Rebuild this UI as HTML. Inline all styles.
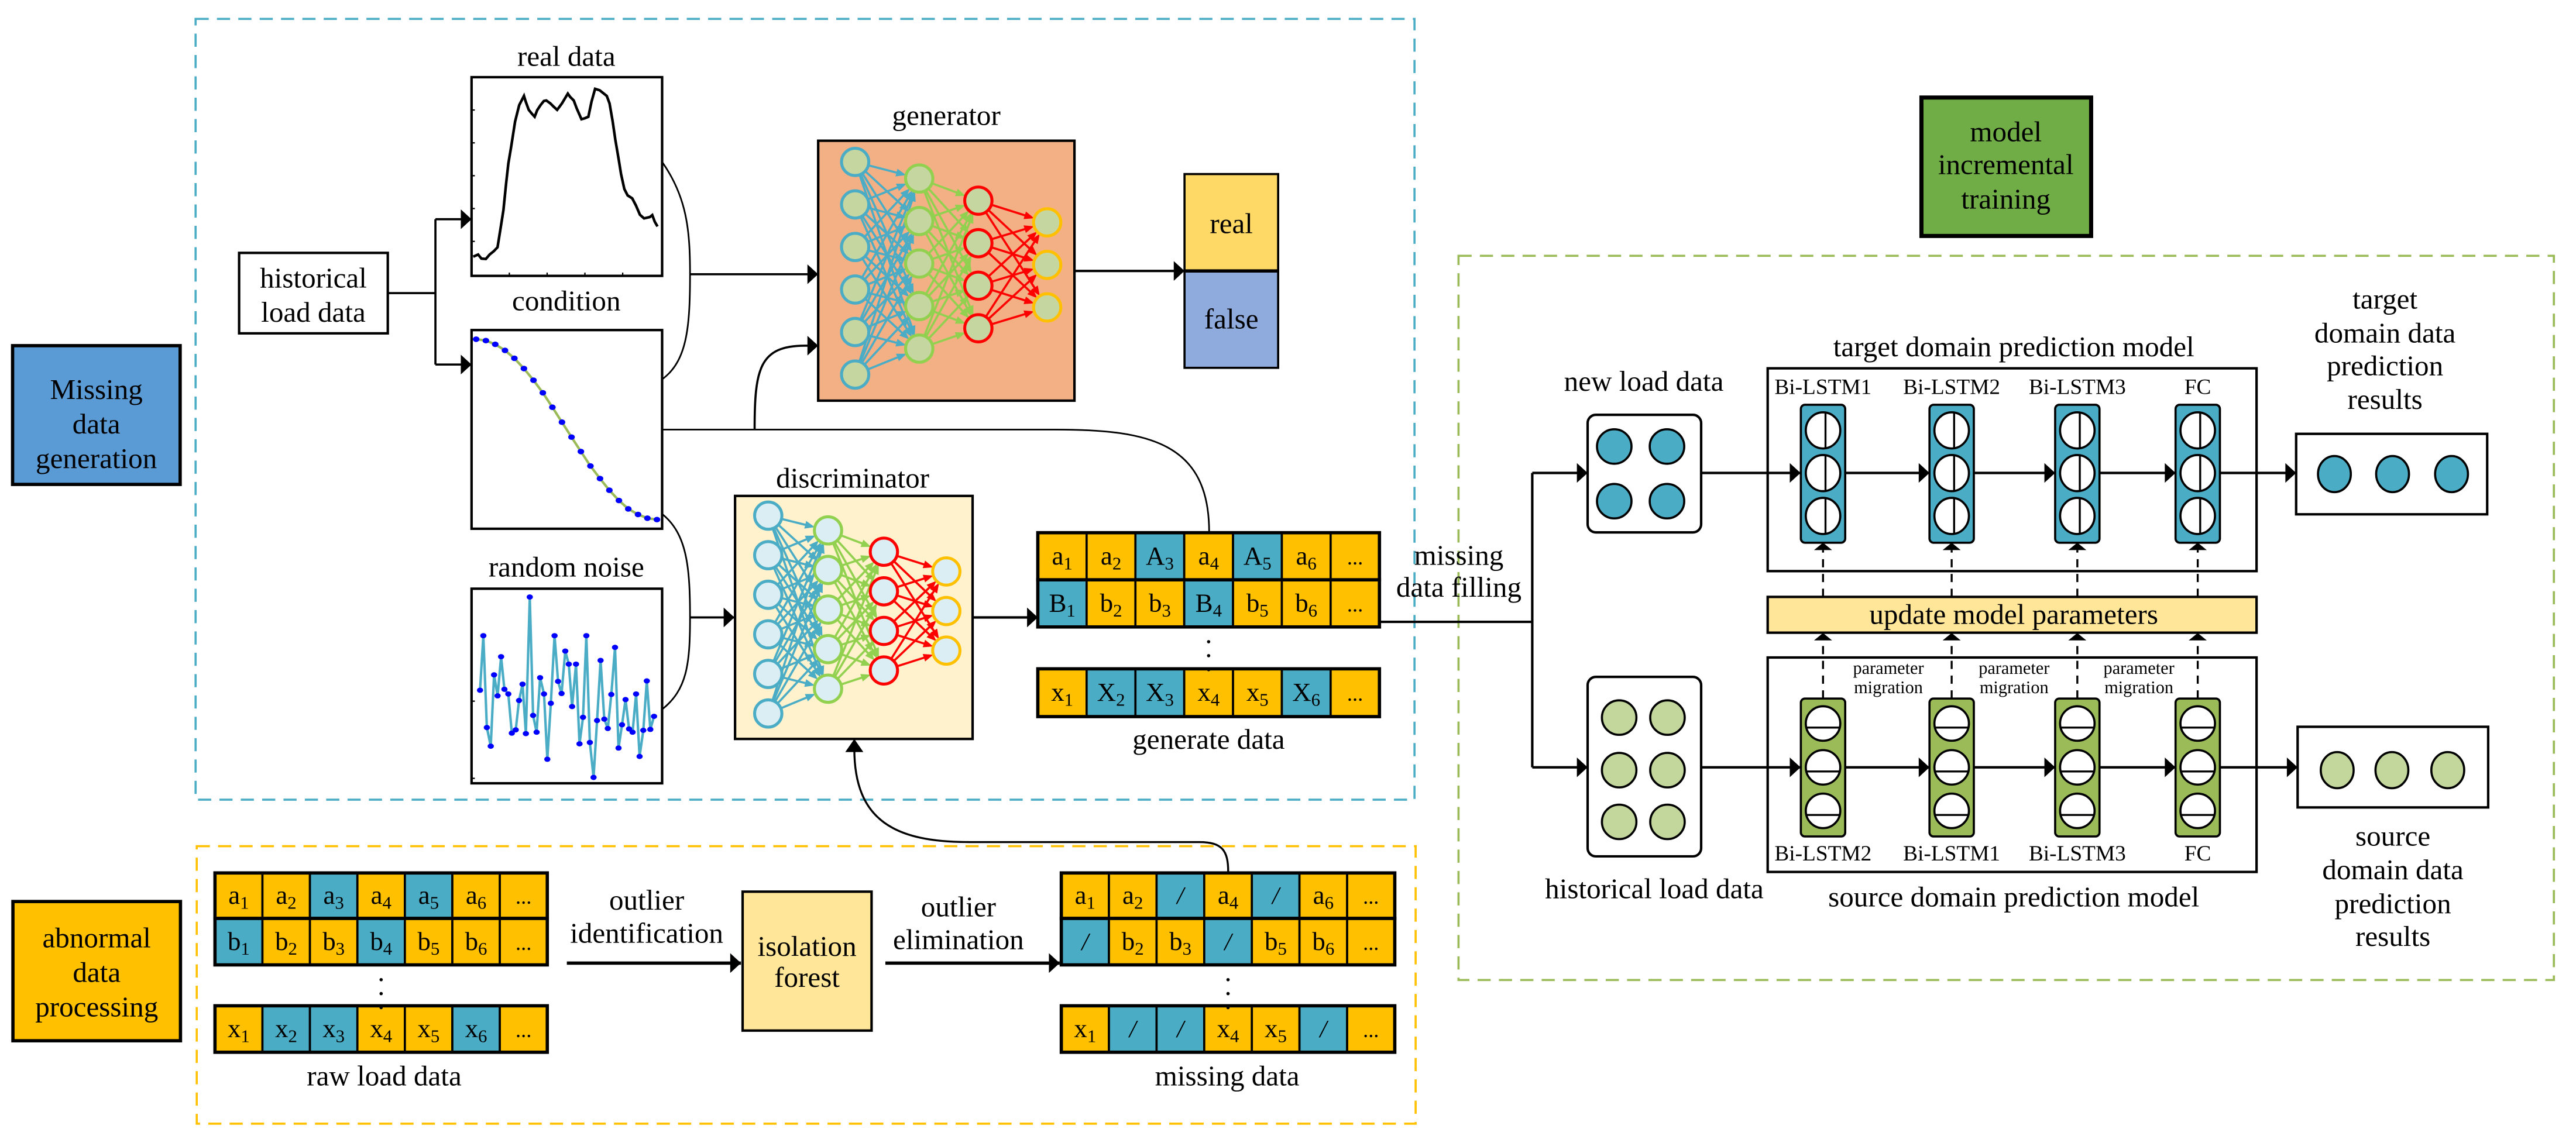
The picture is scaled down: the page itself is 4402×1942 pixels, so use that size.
<!DOCTYPE html>
<html><head><meta charset="utf-8"><style>
html,body{margin:0;padding:0;background:#fff;}
svg{display:block;font-family:"Liberation Serif","DejaVu Serif",serif;}
svg text{font-family:"Liberation Serif","DejaVu Serif",serif;fill:#000;}
</style></head><body>
<svg id="s" xmlns="http://www.w3.org/2000/svg" width="4402" height="1942" viewBox="0 0 1568 691.8" font-family="Liberation Serif, serif">
<defs>
<marker id="ar" markerUnits="userSpaceOnUse" markerWidth="8" markerHeight="12" viewBox="0 0 6 11" refX="6" refY="5.5" orient="auto"><path d="M0,0L6,5.5L0,11z" fill="#000"/></marker>
</defs>
<rect width="1568" height="692" fill="#fff"/>

<rect x="119" y="11.5" width="742" height="475.5" fill="none" stroke="#4bacc6" stroke-width="1.3" stroke-dasharray="8,5"/>
<rect x="119.7" y="515.3" width="742" height="169" fill="none" stroke="#ffc000" stroke-width="1.3" stroke-dasharray="8,5"/>
<rect x="887.8" y="155.8" width="666.8" height="441" fill="none" stroke="#9bbb59" stroke-width="1.3" stroke-dasharray="8,5"/>

<rect x="7.6" y="210.5" width="102" height="84.5" fill="#5b9bd5" stroke="#000" stroke-width="2"/>
<text x="58.6" y="243" font-size="17.5" text-anchor="middle">Missing</text>
<text x="58.6" y="264" font-size="17.5" text-anchor="middle">data</text>
<text x="58.6" y="285" font-size="17.5" text-anchor="middle">generation</text>
<rect x="7.8" y="549" width="102" height="84.8" fill="#ffc000" stroke="#000" stroke-width="2"/>
<text x="58.8" y="577" font-size="17.5" text-anchor="middle">abnormal</text>
<text x="58.8" y="598" font-size="17.5" text-anchor="middle">data</text>
<text x="58.8" y="619" font-size="17.5" text-anchor="middle">processing</text>
<rect x="1169.6" y="59.4" width="103.3" height="84.3" fill="#70ad47" stroke="#000" stroke-width="2.5"/>
<text x="1221" y="86" font-size="17.5" text-anchor="middle">model</text>
<text x="1221" y="106" font-size="17.5" text-anchor="middle">incremental</text>
<text x="1221" y="127" font-size="17.5" text-anchor="middle">training</text>

<rect x="145.5" y="154" width="90.5" height="49" fill="#fff" stroke="#000" stroke-width="1.5"/>
<text x="190.7" y="175" font-size="17.5" text-anchor="middle">historical</text>
<text x="190.7" y="196" font-size="17.5" text-anchor="middle">load data</text>
<path d="M236,178.5H265M265,133.5V222" stroke="#000" stroke-width="1.3" fill="none"/>
<path d="M265,133.5H287" stroke="#000" stroke-width="1.3" marker-end="url(#ar)"/>
<path d="M265,222H287" stroke="#000" stroke-width="1.3" marker-end="url(#ar)"/>

<text x="344.7" y="40" font-size="17.5" text-anchor="middle">real data</text>
<rect x="287" y="47" width="116" height="121" fill="#fff" stroke="#000" stroke-width="1.5"/>
<text x="344.7" y="189" font-size="17.5" text-anchor="middle">condition</text>
<rect x="287" y="201" width="116" height="121" fill="#fff" stroke="#000" stroke-width="1.5"/>
<text x="344.7" y="351" font-size="17.5" text-anchor="middle">random noise</text>
<rect x="287" y="358.5" width="116" height="118.5" fill="#fff" stroke="#000" stroke-width="1.5"/>
<g id="plots"></g>

<path d="M403,98.6C418,120 420,140 420,167C420,200 418,220 403,231" stroke="#000" stroke-width="1" fill="none"/>
<path d="M420,167H498" stroke="#000" stroke-width="1.3" marker-end="url(#ar)"/>
<path d="M403,313C418,325 420,345 420,376C420,405 418,420 403,432" stroke="#000" stroke-width="1" fill="none"/>
<path d="M420,376H447" stroke="#000" stroke-width="1.3" marker-end="url(#ar)"/>
<path d="M403,261.6H643C700,261.6 736,270 736,324" stroke="#000" stroke-width="1" fill="none"/>
<path d="M459.3,261.6C459.3,225 462,210.5 490,210.5H498" stroke="#000" stroke-width="1.3" fill="none" marker-end="url(#ar)"/>

<text x="576" y="76" font-size="17.5" text-anchor="middle">generator</text>
<rect x="498" y="85.7" width="156" height="158.3" fill="#f2b084" stroke="#000" stroke-width="1.5"/>
<g id="gen"></g>
<path d="M654,165H721" stroke="#000" stroke-width="1.5" marker-end="url(#ar)"/>
<rect x="721" y="106" width="57" height="59" fill="#ffd966" stroke="#000" stroke-width="1.3"/>
<rect x="721" y="165" width="57" height="59" fill="#8faadc" stroke="#000" stroke-width="1.3"/>
<path d="M721,165H778" stroke="#000" stroke-width="2"/>
<text x="749.5" y="142" font-size="17.5" text-anchor="middle">real</text>
<text x="749.5" y="200" font-size="17.5" text-anchor="middle">false</text>

<text x="519" y="297" font-size="17.5" text-anchor="middle">discriminator</text>
<rect x="447.4" y="302" width="144.6" height="148" fill="#fff2cc" stroke="#000" stroke-width="1.5"/>
<g id="dis"></g>
<path d="M592,376H631.7" stroke="#000" stroke-width="1.5" marker-end="url(#ar)"/>

<g id="tables"></g>
<text x="735.7" y="456" font-size="17.5" text-anchor="middle">generate data</text>
<text x="233.8" y="661" font-size="17.5" text-anchor="middle">raw load data</text>
<text x="747" y="661" font-size="17.5" text-anchor="middle">missing data</text>

<text x="393.6" y="554" font-size="17.5" text-anchor="middle">outlier</text>
<text x="393.6" y="574" font-size="17.5" text-anchor="middle">identification</text>
<path d="M345,586.5H451" stroke="#000" stroke-width="2" marker-end="url(#ar)"/>
<rect x="452" y="543" width="78.5" height="84.6" fill="#ffe699" stroke="#000" stroke-width="1.5"/>
<text x="491.2" y="582" font-size="17.5" text-anchor="middle">isolation</text>
<text x="491.2" y="601" font-size="17.5" text-anchor="middle">forest</text>
<text x="583.4" y="558" font-size="17.5" text-anchor="middle">outlier</text>
<text x="583.4" y="578" font-size="17.5" text-anchor="middle">elimination</text>
<path d="M538.9,586.5H645" stroke="#000" stroke-width="2" marker-end="url(#ar)"/>
<path d="M747.6,531C747.6,518 744,512.8 730,512.8H590C545,512.8 520,500 520,456" stroke="#000" stroke-width="1.2" fill="none"/>
<path d="M514.5,458L520,450L525.5,458z" fill="#000"/>

<text x="888" y="344" font-size="17.5" text-anchor="middle">missing</text>
<text x="888" y="363.4" font-size="17.5" text-anchor="middle">data filling</text>
<path d="M839.7,378.7H932.7M932.7,288V467.3" stroke="#000" stroke-width="1.5" fill="none"/>
<path d="M932.7,288H966.4" stroke="#000" stroke-width="1.5" marker-end="url(#ar)"/>
<path d="M932.7,467.3H966.4" stroke="#000" stroke-width="1.5" marker-end="url(#ar)"/>

<text x="1000.6" y="238" font-size="17.5" text-anchor="middle">new load data</text>
<rect x="966.4" y="252.6" width="69.1" height="71.6" rx="5" fill="#fff" stroke="#000" stroke-width="1.5"/>
<rect x="966.4" y="412.2" width="69.1" height="109.3" rx="5" fill="#fff" stroke="#000" stroke-width="1.5"/>
<text x="1007" y="547" font-size="17.5" text-anchor="middle">historical load data</text>

<text x="1225.8" y="217" font-size="17.5" text-anchor="middle">target domain prediction model</text>
<rect x="1076" y="224.3" width="297.6" height="123.5" fill="#fff" stroke="#000" stroke-width="1.5"/>
<rect x="1076" y="363.5" width="297.6" height="21.8" fill="#ffe699" stroke="#000" stroke-width="1.5"/>
<text x="1225.8" y="380" font-size="17.5" text-anchor="middle">update model parameters</text>
<rect x="1076" y="400.4" width="297.6" height="130.6" fill="#fff" stroke="#000" stroke-width="1.5"/>
<text x="1225.8" y="552" font-size="17.5" text-anchor="middle">source domain prediction model</text>
<rect x="1397.7" y="264.2" width="116.3" height="49" fill="#fff" stroke="#000" stroke-width="1.5"/>
<rect x="1398.6" y="442.6" width="116" height="49.1" fill="#fff" stroke="#000" stroke-width="1.5"/>
<g id="lstm"></g>

<g font-size="17.5" text-anchor="middle">
<text x="1451.8" y="188">target</text>
<text x="1451.8" y="208.5">domain data</text>
<text x="1451.8" y="228.5">prediction</text>
<text x="1451.8" y="249">results</text>
<text x="1456.6" y="515">source</text>
<text x="1456.6" y="535.5">domain data</text>
<text x="1456.6" y="556">prediction</text>
<text x="1456.6" y="576">results</text>
</g>
</svg>
<script>
function $(id){return document.getElementById(id);}
var H='';
var rp=[[288,156.3],[291,155],[293,157.5],[295.7,157.7],[298,155],[300.5,153],[302.8,150.6],[304.5,140],[306.4,127.9],[308,112],[309.4,99.5],[311,90],[313.5,74],[316,64],[318.9,58.4],[320,62],[321.8,66.9],[323.5,69],[325.4,71.1],[327,67],[329,64],[331,61.5],[332.5,61.2],[335,63],[337,65],[339.1,66.9],[342,63],[345.6,57],[347,59],[349.2,61.2],[351,66],[353.9,72.6],[356,72],[358.1,71.1],[360,62],[362.2,54.1],[365,55],[369.3,58.4],[371,63],[372.9,74],[374.5,85],[376.5,96.7],[378,106],[380,115.1],[382,119],[384.8,120.8],[387,125],[389.5,130.8],[392,133],[395.5,132.2],[397,131],[398.5,135],[400.2,137.9]];
H+='<polyline points="'+rp.join(' ')+'" fill="none" stroke="#000" stroke-width="1.6"/>';
for(var i=1;i<6;i++){H+='<line x1="287" x2="289" y1="'+(47+i*20)+'" y2="'+(47+i*20)+'" stroke="#000" stroke-width="0.8"/>';}
for(var i=1;i<5;i++){H+='<line y1="168" y2="166" x1="'+(287+i*23)+'" x2="'+(287+i*23)+'" stroke="#000" stroke-width="0.8"/>';}
var cx=[100,150,198,248,296,345,394,442,491,540,589,637,686,735,783,832,880,930,978,1027];
var cy=[577,580,588,601,618,640,665,692,723,755,787,818,849,876,901,923,941,953,961,964];
var cp=[];for(var i=0;i<cx.length;i++)cp.push([277.9+cx[i]*0.11875,42.75+cy[i]*0.2839]);
H+='<polyline points="'+cp.join(' ')+'" fill="none" stroke="#9bbb59" stroke-width="1.5"/>';
cp.forEach(function(p){H+='<ellipse cx="'+p[0]+'" cy="'+p[1]+'" rx="2" ry="1.7" fill="#0000ff"/>';});
var np=[[120,1330],[137,1213],[155,1410],[175,1450],[192,1297],[210,1342],[228,1258],[245,1328],[265,1338],[283,1422],[303,1415],[320,1352],[338,1317],[355,1423],[375,1130],[392,1384],[410,1420],[428,1303],[448,1338],[465,1478],[483,1358],[502,1213],[520,1311],[538,1337],[557,1246],[575,1274],[592,1365],[612,1274],[630,1445],[648,1388],[665,1213],[683,1442],[702,1517],[720,1395],[738,1266],[757,1392],[775,1412],[793,1339],[812,1238],[830,1454],[848,1404],[866,1350],[884,1413],[902,1420],[920,1338],[938,1472],[957,1416],[975,1310],[993,1414],[1012,1386]];
var nq=np.map(function(p){return [277.9+p[0]*0.11875,42.75+p[1]*0.2839];});
H+='<polyline points="'+nq.join(' ')+'" fill="none" stroke="#4bacc6" stroke-width="1.5"/>';
nq.forEach(function(p){H+='<ellipse cx="'+p[0]+'" cy="'+p[1]+'" rx="1.9" ry="1.6" fill="#0000ff"/>';});
for(var i=1;i<3;i++){H+='<line x1="287" x2="289" y1="'+(380+i*47)+'" y2="'+(380+i*47)+'" stroke="#000" stroke-width="0.8"/>';}
$('plots').innerHTML=H;

function net(id,x,y0,dy,r,fill){
  var L=[[x[0],6,y0[0],'#4bacc6'],[x[1],5,y0[1],'#92d050'],[x[2],4,y0[2],'#ff0000'],[x[3],3,y0[3],'#ffc000']];
  var s='';
  for(var l=0;l<3;l++){
    for(var a=0;a<L[l][1];a++)for(var b=0;b<L[l+1][1];b++){
      var x1=L[l][0],y1=L[l][2]+a*dy,x2=L[l+1][0],y2=L[l+1][2]+b*dy;
      var dx=x2-x1,dyy=y2-y1,d=Math.sqrt(dx*dx+dyy*dyy);
      var ex=x2-dx/d*r,ey=y2-dyy/d*r, sx=x1+dx/d*r, sy=y1+dyy/d*r;
      var c=L[l][3];
      s+='<line x1="'+sx+'" y1="'+sy+'" x2="'+(ex-dx/d*4)+'" y2="'+(ey-dyy/d*4)+'" stroke="'+c+'" stroke-width="1.3"/>';
      var px=-dyy/d,py=dx/d;
      s+='<path d="M'+ex+','+ey+'L'+(ex-dx/d*6+px*2.4)+','+(ey-dyy/d*6+py*2.4)+'L'+(ex-dx/d*6-px*2.4)+','+(ey-dyy/d*6-py*2.4)+'z" fill="'+c+'"/>';
    }
  }
  for(var l=0;l<4;l++)for(var a=0;a<L[l][1];a++){
    s+='<circle cx="'+L[l][0]+'" cy="'+(L[l][2]+a*dy)+'" r="'+r+'" fill="'+fill+'" stroke="'+L[l][3]+'" stroke-width="1.8"/>';
  }
  $(id).innerHTML=s;
}
net('gen',[520.5,559.5,595.5,637.4],[98.6,108.7,122.2,135.4],25.9,8.3,'#c5d6a0');
net('dis',[467.6,504,538,576],[314,323,336,348],24.1,8.3,'#daeef3');

var O='#ffc000',B='#4bacc6';
function cell(x,y,w,h,c,lab,sub){
  var s='<rect x="'+x+'" y="'+y+'" width="'+w+'" height="'+h+'" fill="'+c+'" stroke="#000" stroke-width="1.3"/>';
  var tx=x+w/2, ty=y+h/2+5;
  if(sub) s+='<text x="'+tx+'" y="'+ty+'" font-size="16" text-anchor="middle">'+lab+'<tspan font-size="11" dy="3">'+sub+'</tspan></text>';
  else s+='<text x="'+tx+'" y="'+ty+'" font-size="'+(lab=='/'?15:13)+'" text-anchor="middle"'+(lab=='/'?' font-style="italic"':'')+'>'+lab+'</text>';
  return s;
}
function table(x0,w,ys,h,rows){
  var s='';
  rows.forEach(function(r,ri){
    r.forEach(function(c,ci){s+=cell(x0+ci*w,ys[ri],w,h[ri],c[0],c[1],c[2]);});
    s+='<rect x="'+x0+'" y="'+ys[ri]+'" width="'+(w*7)+'" height="'+h[ri]+'" fill="none" stroke="#000" stroke-width="2"/>';
  });
  var mx=x0+w*3.5;
  [0,1,2].forEach(function(k){s+='<circle cx="'+mx+'" cy="'+(ys[1]+h[1]+9+k*8.5)+'" r="1" fill="#000"/>';});
  return s;
}
var T='';
T+=table(631.7,29.71,[324.4,353.1,407.3],[28.7,28.7,29.1],[
 [[O,'a','1'],[O,'a','2'],[B,'A','3'],[O,'a','4'],[B,'A','5'],[O,'a','6'],[O,'...']],
 [[B,'B','1'],[O,'b','2'],[O,'b','3'],[B,'B','4'],[O,'b','5'],[O,'b','6'],[O,'...']],
 [[O,'x','1'],[B,'X','2'],[B,'X','3'],[O,'x','4'],[O,'x','5'],[B,'X','6'],[O,'...']]]);
T+=table(130.8,28.9,[531.6,559.3,612.5],[27.7,28.3,28.3],[
 [[O,'a','1'],[O,'a','2'],[B,'a','3'],[O,'a','4'],[B,'a','5'],[O,'a','6'],[O,'...']],
 [[B,'b','1'],[O,'b','2'],[O,'b','3'],[B,'b','4'],[O,'b','5'],[O,'b','6'],[O,'...']],
 [[O,'x','1'],[B,'x','2'],[B,'x','3'],[O,'x','4'],[O,'x','5'],[B,'x','6'],[O,'...']]]);
T+=table(646,29,[531.6,559.3,612.5],[27.7,28.3,28.3],[
 [[O,'a','1'],[O,'a','2'],[B,'/'],[O,'a','4'],[B,'/'],[O,'a','6'],[O,'...']],
 [[B,'/'],[O,'b','2'],[O,'b','3'],[B,'/'],[O,'b','5'],[O,'b','6'],[O,'...']],
 [[O,'x','1'],[B,'/'],[B,'/'],[O,'x','4'],[O,'x','5'],[B,'/'],[O,'...']]]);
$('tables').innerHTML=T;

var S='';
var cxs=[1109.7,1188,1264.5,1337.8];
var tl=['Bi-LSTM1','Bi-LSTM2','Bi-LSTM3','FC'], sl=['Bi-LSTM2','Bi-LSTM1','Bi-LSTM3','FC'];
[[982.6,271.9],[1014.7,271.9],[982.6,305.2],[1014.7,305.2]].forEach(function(p){S+='<circle cx="'+p[0]+'" cy="'+p[1]+'" r="10.5" fill="#4bacc6" stroke="#000" stroke-width="1.3"/>';});
[437,469,500.5].forEach(function(y){[985.6,1015].forEach(function(x){S+='<circle cx="'+x+'" cy="'+y+'" r="10.5" fill="#c3d69b" stroke="#000" stroke-width="1.3"/>';});});
[1421,1456.4,1492.3].forEach(function(x){S+='<ellipse cx="'+x+'" cy="288.7" rx="10" ry="11" fill="#4bacc6" stroke="#000" stroke-width="1.3"/>';});
[1422.7,1456,1490].forEach(function(x){S+='<ellipse cx="'+x+'" cy="469" rx="10" ry="11" fill="#c3d69b" stroke="#000" stroke-width="1.3"/>';});
S+='<path d="M1035.5,288H1096" stroke="#000" stroke-width="1.5" marker-end="url(#ar)"/>';
S+='<path d="M1035.5,467.3H1096" stroke="#000" stroke-width="1.5" marker-end="url(#ar)"/>';
for(var i=0;i<3;i++){
  S+='<path d="M'+(cxs[i]+13.5)+',288H'+(cxs[i+1]-13.5)+'" stroke="#000" stroke-width="1.5" marker-end="url(#ar)"/>';
  S+='<path d="M'+(cxs[i]+13.5)+',467.3H'+(cxs[i+1]-13.5)+'" stroke="#000" stroke-width="1.5" marker-end="url(#ar)"/>';
}
S+='<path d="M1351.3,288H1397.7" stroke="#000" stroke-width="1.5" marker-end="url(#ar)"/>';
S+='<path d="M1351.3,467.3H1398.6" stroke="#000" stroke-width="1.5" marker-end="url(#ar)"/>';
cxs.forEach(function(c,i){
  S+='<path d="M'+c+',425.4V390" stroke="#000" stroke-width="1.2" stroke-dasharray="5,4"/>';
  S+='<path d="M'+(c-5.5)+',390L'+c+',385.5L'+(c+5.5)+',390z" fill="#000"/>';
  S+='<path d="M'+c+',363.5V335" stroke="#000" stroke-width="1.2" stroke-dasharray="5,4"/>';
  S+='<path d="M'+(c-5.5)+',335L'+c+',330.5L'+(c+5.5)+',335z" fill="#000"/>';
  S+='<rect x="'+(c-13.5)+'" y="246.5" width="27" height="84" rx="2.5" fill="#4bacc6" stroke="#000" stroke-width="1.3"/>';
  [262.1,288.1,314.2].forEach(function(y){S+='<ellipse cx="'+c+'" cy="'+y+'" rx="10.5" ry="11" fill="#fff" stroke="#000" stroke-width="1.3"/><line x1="'+(c+1.5)+'" x2="'+(c+1.5)+'" y1="'+(y-10.5)+'" y2="'+(y+10.5)+'" stroke="#000" stroke-width="1.2"/>';});
  S+='<rect x="'+(c-13.5)+'" y="425.4" width="27" height="84" rx="2.5" fill="#9bbb59" stroke="#000" stroke-width="1.3"/>';
  [440.6,467.3,493.8].forEach(function(y){S+='<ellipse cx="'+c+'" cy="'+y+'" rx="10.5" ry="10.5" fill="#fff" stroke="#000" stroke-width="1.3"/><line x1="'+(c-10)+'" x2="'+(c+10)+'" y1="'+(y+2.5)+'" y2="'+(y+2.5)+'" stroke="#000" stroke-width="1.2"/>';});
  S+='<text x="'+c+'" y="240" font-size="13.3" text-anchor="middle">'+tl[i]+'</text>';
  S+='<text x="'+c+'" y="524" font-size="13.3" text-anchor="middle">'+sl[i]+'</text>';
});
[1149.5,1226,1302].forEach(function(x){
  S+='<text x="'+x+'" y="410.3" font-size="10.8" text-anchor="middle">parameter</text>';
  S+='<text x="'+x+'" y="422.2" font-size="10.8" text-anchor="middle">migration</text>';
});
$('lstm').innerHTML=S;
</script>
</body></html>
